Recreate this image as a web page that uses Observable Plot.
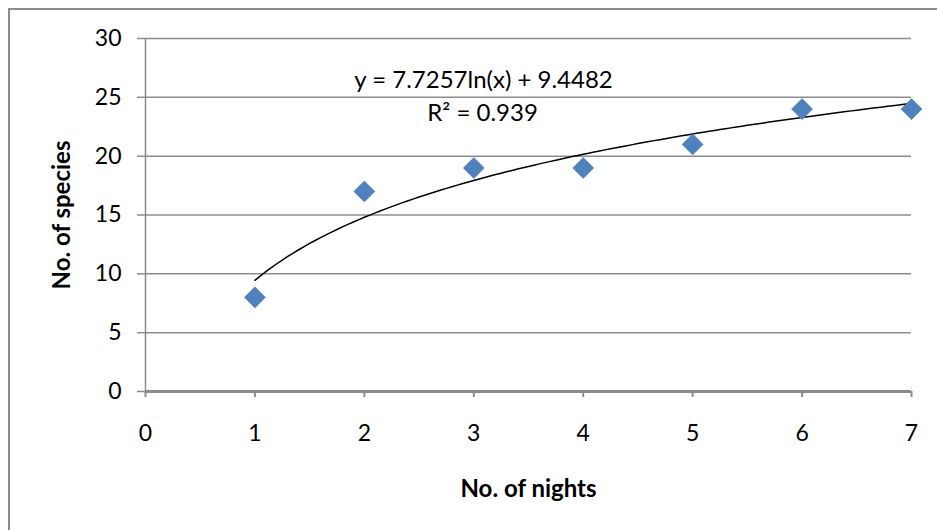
<!DOCTYPE html>
<html><head><meta charset="utf-8">
<script src="https://cdn.jsdelivr.net/npm/d3@7"></script>
<script src="https://cdn.jsdelivr.net/npm/@observablehq/plot@0.6"></script>
<style>
body{margin:0;background:#fff;}
#wrap{position:relative;width:937px;height:530px;overflow:hidden;}
#frame{position:absolute;left:8px;top:8px;width:1000px;height:1000px;border-left:2px solid #8c8c8c;border-top:2px solid #8c8c8c;box-sizing:border-box;}
#chart{position:absolute;left:0;top:0;}
</style></head>
<body><div id="wrap"><div id="frame"></div><div id="chart"></div></div>
<script>
const nights = [1, 2, 3, 4, 5, 6, 7];
const species = [8, 17, 19, 19, 21, 24, 24];
const xTicks = [0, 1, 2, 3, 4, 5, 6, 7];
const yTicks = [0, 5, 10, 15, 20, 25, 30];
const trendA = 7.7257, trendB = 9.4482;
const equationText = "y = 7.7257ln(x) + 9.4482";
const r2Text = "R² = 0.939";

const points = nights.map((n, i) => ({x: n, y: species[i]}));
const trend = d3.range(1, 7.0001, 0.05).map(x => ({x, y: trendA * Math.log(x) + trendB}));

const font = "Lato, 'Open Sans', sans-serif";
const chart = Plot.plot({
  width: 937, height: 530,
  marginLeft: 145, marginRight: 26, marginTop: 38, marginBottom: 139,
  style: {fontFamily: font, fontSize: "23px", color: "#000", background: "transparent"},
  x: {domain: [0, 7], label: null},
  y: {domain: [0, 30], label: null},
  marks: [
    Plot.ruleY(yTicks.filter(d => d > 0), {stroke: "#8c8c8c", strokeWidth: 1.5}),
    Plot.axisY({ticks: yTicks, tickFormat: d => String(d), tickSize: 8, tickPadding: 16, fontSize: 23, stroke: "#8c8c8c", strokeWidth: 1.5, fill: "#000", strokeOpacity: 1, label: null}),
    Plot.axisX({ticks: xTicks, tickFormat: d => String(d), tickSize: 6, tickPadding: 27, fontSize: 23, stroke: "#8c8c8c", strokeWidth: 2, fill: "#000", strokeOpacity: 1, label: null}),
    Plot.ruleX([0], {stroke: "#8c8c8c", strokeWidth: 1.5}),
    Plot.ruleY([0], {stroke: "#8c8c8c", strokeWidth: 3}),
    Plot.line(trend, {x: "x", y: "y", stroke: "#000", strokeWidth: 1.5}),
    Plot.dot(points, {x: "x", y: "y", symbol: "diamond2", r: 9.5, fill: "#4f81bd", stroke: "#4a7ab3", strokeWidth: 0.5}),
    Plot.text([equationText], {frameAnchor: "top-left", dx: 338, dy: 42, lineAnchor: "middle", text: d => d, textAnchor: "middle", fontSize: 24, fill: "#000"}),
    Plot.text([r2Text], {frameAnchor: "top-left", dx: 337, dy: 75, lineAnchor: "middle", text: d => d, textAnchor: "middle", fontSize: 24, fill: "#000"}),
    Plot.text(["No. of nights"], {frameAnchor: "bottom", dy: 98, lineAnchor: "middle", text: d => d, textAnchor: "middle", fontWeight: "bold", fontSize: 24, fill: "#000"}),
    Plot.text(["No. of species"], {frameAnchor: "left", dx: -83, lineAnchor: "middle", text: d => d, textAnchor: "middle", rotate: -90, fontWeight: "bold", fontSize: 24, fill: "#000"})
  ]
});
document.getElementById("chart").appendChild(chart);
</script></body></html>
